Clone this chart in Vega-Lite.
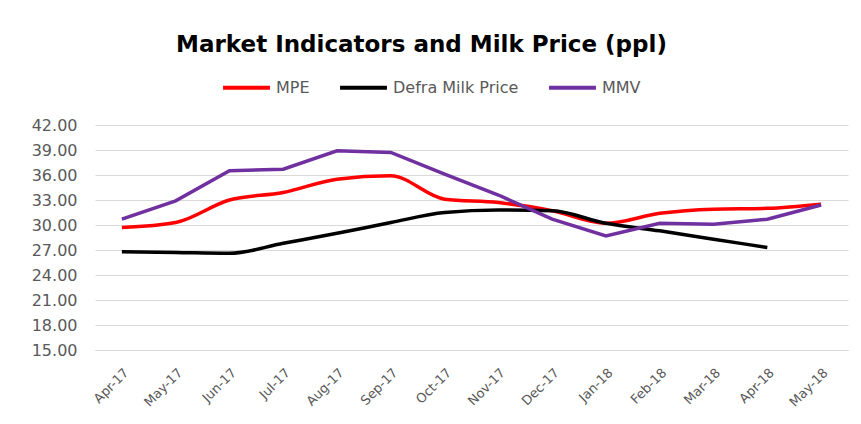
{
  "$schema": "https://vega.github.io/schema/vega-lite/v6.json",
  "autosize": "none",
  "width": 753,
  "height": 225,
  "padding": {"left": 95, "top": 125, "right": 13, "bottom": 74},
  "background": "white",
  "title": {
    "text": "Market Indicators and Milk Price (ppl)",
    "font": "DejaVu Sans",
    "fontSize": 23,
    "fontWeight": "bold",
    "color": "#000000",
    "anchor": "middle",
    "frame": "group",
    "dx": -50,
    "offset": 5
  },
  "data": {
    "values": [
      {"month": "Apr-17", "series": "MPE", "value": 29.7},
      {"month": "May-17", "series": "MPE", "value": 30.3},
      {"month": "Jun-17", "series": "MPE", "value": 33.0},
      {"month": "Jul-17", "series": "MPE", "value": 33.9},
      {"month": "Aug-17", "series": "MPE", "value": 35.5},
      {"month": "Sep-17", "series": "MPE", "value": 35.9},
      {"month": "Oct-17", "series": "MPE", "value": 33.1},
      {"month": "Nov-17", "series": "MPE", "value": 32.7},
      {"month": "Dec-17", "series": "MPE", "value": 31.7},
      {"month": "Jan-18", "series": "MPE", "value": 30.2},
      {"month": "Feb-18", "series": "MPE", "value": 31.4},
      {"month": "Mar-18", "series": "MPE", "value": 31.9},
      {"month": "Apr-18", "series": "MPE", "value": 32.0},
      {"month": "May-18", "series": "MPE", "value": 32.5},
      {"month": "Apr-17", "series": "Defra Milk Price", "value": 26.8},
      {"month": "May-17", "series": "Defra Milk Price", "value": 26.7},
      {"month": "Jun-17", "series": "Defra Milk Price", "value": 26.6},
      {"month": "Jul-17", "series": "Defra Milk Price", "value": 27.8},
      {"month": "Aug-17", "series": "Defra Milk Price", "value": 29.0},
      {"month": "Sep-17", "series": "Defra Milk Price", "value": 30.3},
      {"month": "Oct-17", "series": "Defra Milk Price", "value": 31.5},
      {"month": "Nov-17", "series": "Defra Milk Price", "value": 31.8},
      {"month": "Dec-17", "series": "Defra Milk Price", "value": 31.7},
      {"month": "Jan-18", "series": "Defra Milk Price", "value": 30.2},
      {"month": "Feb-18", "series": "Defra Milk Price", "value": 29.3},
      {"month": "Mar-18", "series": "Defra Milk Price", "value": 28.3},
      {"month": "Apr-18", "series": "Defra Milk Price", "value": 27.3},
      {"month": "Apr-17", "series": "MMV", "value": 30.7},
      {"month": "May-17", "series": "MMV", "value": 32.9},
      {"month": "Jun-17", "series": "MMV", "value": 36.5},
      {"month": "Jul-17", "series": "MMV", "value": 36.7},
      {"month": "Aug-17", "series": "MMV", "value": 38.9},
      {"month": "Sep-17", "series": "MMV", "value": 38.7},
      {"month": "Oct-17", "series": "MMV", "value": 36.1},
      {"month": "Nov-17", "series": "MMV", "value": 33.6},
      {"month": "Dec-17", "series": "MMV", "value": 30.7},
      {"month": "Jan-18", "series": "MMV", "value": 28.7},
      {"month": "Feb-18", "series": "MMV", "value": 30.2},
      {"month": "Mar-18", "series": "MMV", "value": 30.1},
      {"month": "Apr-18", "series": "MMV", "value": 30.7},
      {"month": "May-18", "series": "MMV", "value": 32.4}
    ]
  },
  "encoding": {
    "x": {
      "field": "month",
      "type": "ordinal",
      "scale": {
        "type": "point",
        "padding": 0.5,
        "domain": ["Apr-17","May-17","Jun-17","Jul-17","Aug-17","Sep-17","Oct-17","Nov-17","Dec-17","Jan-18","Feb-18","Mar-18","Apr-18","May-18"]
      },
      "axis": {
        "title": null,
        "labelAngle": -45,
        "labelAlign": "right",
        "labelBaseline": "top",
        "labelFont": "DejaVu Sans",
        "labelFontSize": 13,
        "labelColor": "#595959",
        "labelPadding": 16,
        "ticks": false,
        "grid": false,
        "domainColor": "#d9d9d9",
        "domainWidth": 1
      }
    },
    "y": {
      "field": "value",
      "type": "quantitative",
      "scale": {"domain": [15, 42], "nice": false, "zero": false},
      "axis": {
        "title": null,
        "values": [15, 18, 21, 24, 27, 30, 33, 36, 39, 42],
        "format": ".2f",
        "labelFont": "DejaVu Sans",
        "labelFontSize": 16,
        "labelColor": "#595959",
        "labelPadding": 18,
        "ticks": false,
        "domain": false,
        "grid": true,
        "gridColor": "#d9d9d9",
        "gridWidth": 1
      }
    },
    "color": {
      "field": "series",
      "type": "nominal",
      "scale": {
        "domain": ["MPE", "Defra Milk Price", "MMV"],
        "range": ["#ff0000", "#000000", "#7030a0"]
      },
      "legend": {
        "title": null,
        "orient": "none",
        "legendX": 126,
        "legendY": -63,
        "direction": "horizontal",
        "symbolType": "stroke",
        "symbolStrokeWidth": 4,
        "symbolSize": 2200,
        "labelFont": "DejaVu Sans",
        "labelFontSize": 16,
        "labelColor": "#595959",
        "labelOffset": 4,
        "columnPadding": 22
      }
    }
  },
  "layer": [
    {
      "transform": [{"filter": "datum.series !== 'MMV'"}],
      "mark": {"type": "line", "strokeWidth": 3.5, "interpolate": "monotone"}
    },
    {
      "transform": [{"filter": "datum.series === 'MMV'"}],
      "mark": {"type": "line", "strokeWidth": 3.5}
    }
  ],
  "config": {"view": {"stroke": null}}
}
